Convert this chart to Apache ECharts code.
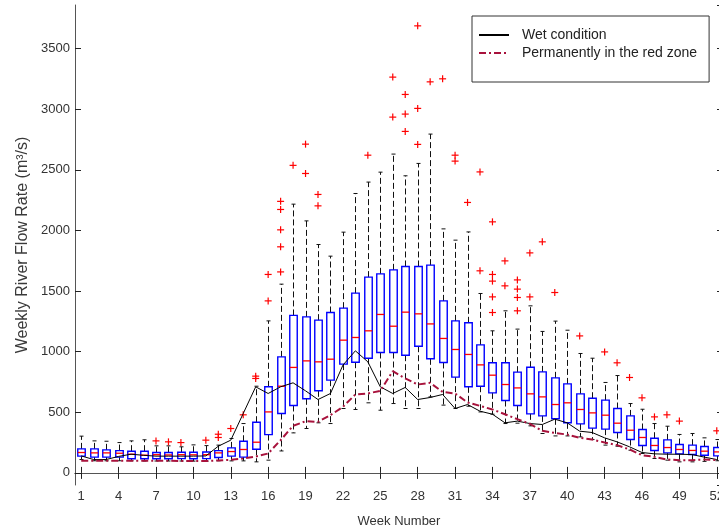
<!DOCTYPE html>
<html><head><meta charset="utf-8">
<script src="https://cdn.jsdelivr.net/npm/echarts@6/dist/echarts.min.js"></script>
<style>html,body{margin:0;padding:0;background:#fff}#c{width:719px;height:531px}</style>
</head><body><div id="c"></div>
<script>
// ---- data ----
const weeks = ['1','2','3','4','5','6','7','8','9','10','11','12','13','14','15','16','17','18','19','20','21','22','23','24','25','26','27','28','29','30','31','32','33','34','35','36','37','38','39','40','41','42','43','44','45','46','47','48','49','50','51','52'];
const xTickLabels = ['1','4','7','10','13','16','19','22','25','28','31','34','37','40','43','46','49','52'];

const lowerWhisker = [110,100,100,100,100,98,98,98,98,97,97,100,99,99,91,105,181,330,366,413,407,531,523,578,517,572,531,531,627,559,531,550,503,484,407,410,388,325,305,305,297,275,229,220,187,160,119,105,91,91,95,100];
const q1 =           [138,130,130,130,116,116,116,116,118,116,118,127,138,130,195,316,490,556,611,677,765,897,913,946,993,993,971,1045,941,911,790,710,715,660,597,556,487,470,446,413,404,369,361,333,275,226,185,165,157,152,146,140];
const median =       [168,165,165,162,154,146,150,148,150,149,150,165,176,193,253,503,715,870,924,916,938,1095,1117,1172,1307,1210,1326,1312,1229,1109,1018,977,891,806,729,701,652,627,564,578,523,495,476,410,352,292,226,209,193,185,179,173];
const q3 =           [198,198,190,184,179,179,168,168,170,170,172,184,206,261,418,710,957,1299,1287,1260,1323,1359,1483,1615,1642,1675,1703,1703,1714,1419,1254,1238,1056,908,908,831,872,833,784,734,652,616,600,531,470,358,286,272,234,229,218,209];
const upperWhisker = [303,264,261,250,264,273,223,223,215,231,225,229,284,407,715,1254,1557,2217,2079,1884,1788,1986,2305,2399,2481,2630,2451,2553,2795,2013,1920,1988,1480,1172,1337,1186,1378,1167,1252,1177,985,946,746,803,572,525,407,385,317,325,289,275];

const outlierWeeks  = [7,8,9,11,12,12,13,14,15,15,16,16,17,17,17,17,17,18,19,19,20,20,24,26,26,27,27,27,28,28,28,29,30,31,31,32,33,33,34,34,34,34,34,35,35,36,36,36,36,37,37,38,39,41,43,44,45,46,47,48,49,52];
const outlierValues = [264,256,250,270,319,292,366,479,798,779,1419,1637,1658,1865,2005,2173,2240,2537,2470,2712,2203,2297,2621,2935,3265,2817,2960,3122,2710,3007,3688,3226,3251,2572,2621,2231,1667,2483,1323,1452,1582,1637,2071,1543,1749,1337,1447,1516,1592,1452,1815,1906,1488,1130,998,908,787,619,462,479,427,347];

const wetCondition = [140,110,110,136,154,145,138,138,138,138,140,220,270,490,710,655,710,743,677,605,655,889,1007,916,710,655,705,605,622,647,531,564,509,484,413,427,407,399,443,413,344,333,289,256,215,168,157,154,154,151,130,110];
const redZone =      [100,100,100,100,100,100,100,100,98,97,97,102,108,118,135,160,270,388,426,421,476,545,647,655,677,839,779,729,743,668,655,581,553,523,484,443,405,347,330,316,289,275,251,229,193,146,132,110,105,105,110,105];

// ---- build ----
const boxData = weeks.map((w, i) => [i, lowerWhisker[i], q1[i], median[i], q3[i], upperWhisker[i]]);
const outlierData = outlierWeeks.map((w, k) => [w - 1, outlierValues[k]]);

const FONT = 'Liberation Sans, Arial, Helvetica, sans-serif';
const AXIS_COLOR = '#555';
const TEXT_COLOR = '#333';
const RED_LINE = '#A8123C';

function renderBox(params, api) {
  const i = api.value(0);
  const pLW = api.coord([i, api.value(1)]);
  const pQ1 = api.coord([i, api.value(2)]);
  const pMd = api.coord([i, api.value(3)]);
  const pQ3 = api.coord([i, api.value(4)]);
  const pUW = api.coord([i, api.value(5)]);
  const band = api.size([1, 0])[0];
  const half = band * 0.3;
  const cx = Math.round(pQ1[0]) + 0.5;
  const capHalf = 2;
  const wStyle = { stroke: '#111', lineWidth: 1, lineDash: [6, 3], fill: null };
  const cStyle = { stroke: '#111', lineWidth: 1, fill: null };
  return {
    type: 'group',
    children: [
      { type: 'line', shape: { x1: cx, y1: pQ3[1], x2: cx, y2: pUW[1] }, style: wStyle },
      { type: 'line', shape: { x1: cx, y1: pQ1[1], x2: cx, y2: pLW[1] }, style: wStyle },
      { type: 'line', shape: { x1: cx - capHalf, y1: pUW[1], x2: cx + capHalf, y2: pUW[1] }, style: cStyle },
      { type: 'line', shape: { x1: cx - capHalf, y1: pLW[1], x2: cx + capHalf, y2: pLW[1] }, style: cStyle },
      { type: 'rect', shape: { x: cx - half, y: pQ3[1], width: 2 * half, height: pQ1[1] - pQ3[1] },
        style: { fill: null, stroke: '#0000ff', lineWidth: 1.4 } },
      { type: 'line', shape: { x1: cx - half, y1: pMd[1], x2: cx + half, y2: pMd[1] },
        style: { stroke: '#ff0000', lineWidth: 1.3 } }
    ]
  };
}

function renderPlus(params, api) {
  const p = api.coord([api.value(0), api.value(1)]);
  const s = 3.5;
  const st = { stroke: '#ff0000', lineWidth: 1.2, fill: null };
  return {
    type: 'group',
    children: [
      { type: 'line', shape: { x1: p[0] - s, y1: p[1], x2: p[0] + s, y2: p[1] }, style: st },
      { type: 'line', shape: { x1: p[0], y1: p[1] - s, x2: p[0], y2: p[1] + s }, style: st }
    ]
  };
}

const showTick = (idx, val) => xTickLabels.indexOf(weeks[idx]) >= 0;

const chart = echarts.init(document.getElementById('c'), null, { renderer: 'canvas' });
const yCommon = {
  type: 'value', min: -100, max: 3860, splitNumber: 8,
  splitLine: { show: false },
  axisLine: { show: true, lineStyle: { color: AXIS_COLOR, width: 1 } },
  axisTick: { show: true, inside: true, length: 6, lineStyle: { color: '#222' } }
};
chart.setOption({
  animation: false,
  backgroundColor: '#fff',
  textStyle: { fontFamily: FONT },
  grid: { left: 75, right: -4, top: 5, bottom: 46, containLabel: false, outerBoundsMode: 'none' },
  legend: {
    data: ['Wet condition', 'Permanently in the red zone'],
    orient: 'vertical', left: 472, top: 16,
    padding: [12, 12, 22, 6], itemGap: 4,
    itemWidth: 30, itemHeight: 14,
    itemStyle: { opacity: 0 },
    borderColor: '#333', borderWidth: 1, backgroundColor: '#fff',
    textStyle: { fontSize: 14, color: '#222', fontFamily: FONT, padding: [0, 0, 0, 8] }
  },
  xAxis: [{
    type: 'category', data: weeks, boundaryGap: true, position: 'bottom',
    name: 'Week Number', nameLocation: 'middle', nameGap: 30,
    nameTextStyle: { fontSize: 13, color: TEXT_COLOR, fontFamily: FONT },
    axisLine: { show: true, lineStyle: { color: AXIS_COLOR, width: 1 } },
    axisTick: { show: true, inside: true, length: 6, alignWithLabel: true, interval: showTick, lineStyle: { color: '#222' } },
    axisLabel: { interval: showTick, fontSize: 13, color: TEXT_COLOR, margin: 5, fontFamily: FONT },
    splitLine: { show: false }
  }, {
    type: 'category', data: weeks, boundaryGap: true, position: 'top',
    axisLine: { show: true, lineStyle: { color: AXIS_COLOR, width: 1 } },
    axisTick: { show: true, inside: true, length: 6, alignWithLabel: true, interval: showTick, lineStyle: { color: '#222' } },
    axisLabel: { show: false },
    splitLine: { show: false }
  }],
  yAxis: [Object.assign({}, yCommon, {
    position: 'left',
    name: 'Weekly River Flow Rate (m³/s)', nameLocation: 'middle', nameGap: 36,
    nameTextStyle: { fontSize: 16, color: '#3a3a3a', fontFamily: FONT },
    axisLabel: { show: true, fontSize: 13, color: TEXT_COLOR, margin: 5, showMinLabel: false, showMaxLabel: false,
      fontFamily: FONT, formatter: v => String(v) }
  }), Object.assign({}, yCommon, {
    position: 'right',
    axisLabel: { show: false }
  })],
  series: [
    {
      name: 'boxes', type: 'custom', renderItem: renderBox, data: boxData,
      encode: { x: 0, y: [1, 2, 3, 4, 5] }, xAxisIndex: 0, yAxisIndex: 0, z: 2, silent: true
    },
    {
      name: 'outliers', type: 'custom', renderItem: renderPlus, data: outlierData,
      encode: { x: 0, y: 1 }, xAxisIndex: 0, yAxisIndex: 0, z: 3, silent: true
    },
    {
      name: 'Wet condition', type: 'line', data: wetCondition, symbol: 'none', z: 4,
      lineStyle: { color: '#000', width: 1 }, itemStyle: { color: '#000' }
    },
    {
      name: 'Permanently in the red zone', type: 'line', data: redZone, symbol: 'none', z: 5,
      lineStyle: { color: RED_LINE, width: 2, type: [7, 3, 2, 3] }, itemStyle: { color: RED_LINE }
    }
  ]
});
</script>
</body></html>
